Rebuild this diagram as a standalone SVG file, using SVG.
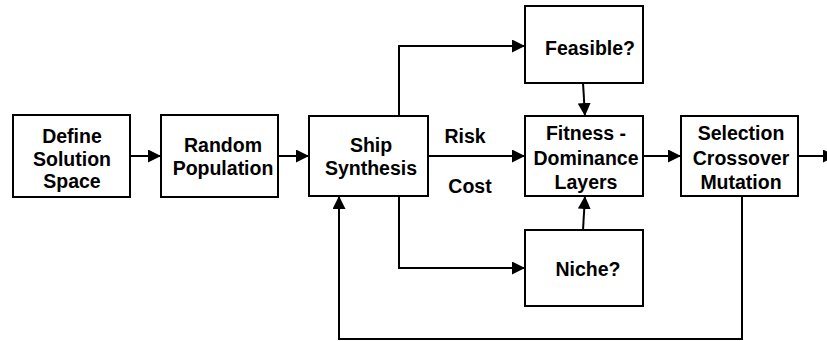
<svg xmlns="http://www.w3.org/2000/svg" width="827" height="341" viewBox="0 0 827 341">
<style>
.box{fill:#fff;stroke:#000;stroke-width:2}
.t{font-family:"Liberation Sans",Arial,sans-serif;font-weight:bold;font-size:19.5px;fill:#000;text-anchor:middle}
.c{fill:none;stroke:#000;stroke-width:2}
</style>
<defs>
<marker id="ah" markerWidth="13" markerHeight="13" refX="13" refY="6.5" orient="auto" markerUnits="userSpaceOnUse">
<path d="M0,0 L13,6.5 L0,13 Z" fill="#000"/>
</marker>
</defs>
<rect width="827" height="341" fill="#fff"/>
<g id="connectors">
<line class="c" x1="130" y1="156" x2="161" y2="156" marker-end="url(#ah)"/>
<line class="c" x1="278" y1="156" x2="309" y2="156" marker-end="url(#ah)"/>
<line class="c" x1="428" y1="156" x2="525" y2="156" marker-end="url(#ah)"/>
<polyline class="c" points="399,116 399,46 525,46" marker-end="url(#ah)"/>
<polyline class="c" points="399,196 399,268 525,268" marker-end="url(#ah)"/>
<line class="c" x1="583" y1="83" x2="585" y2="116" marker-end="url(#ah)"/>
<line class="c" x1="583" y1="230" x2="585" y2="196" marker-end="url(#ah)"/>
<line class="c" x1="643" y1="156" x2="681" y2="156" marker-end="url(#ah)"/>
<line class="c" x1="798" y1="156" x2="836" y2="156" marker-end="url(#ah)"/>
<polyline class="c" points="742,196 742,339 339,339 339,196" marker-end="url(#ah)"/>
<text class="t" x="465" y="143">Risk</text>
<text class="t" x="470" y="193">Cost</text>
</g>
<g id="define">
<rect class="box" x="13" y="115" width="117" height="82"/>
<text class="t" x="72" y="143">Define</text>
<text class="t" x="72" y="166">Solution</text>
<text class="t" x="72" y="188">Space</text>
</g>
<g id="random">
<rect class="box" x="161" y="115" width="117" height="82"/>
<text class="t" x="223" y="152">Random</text>
<text class="t" x="223" y="175">Population</text>
</g>
<g id="ship">
<rect class="box" x="309" y="116" width="119" height="80"/>
<text class="t" x="371" y="152">Ship</text>
<text class="t" x="371" y="175">Synthesis</text>
</g>
<g id="feasible">
<rect class="box" x="525" y="6" width="118" height="77"/>
<text class="t" x="590" y="55">Feasible?</text>
</g>
<g id="fitness">
<rect class="box" x="525" y="116" width="118" height="80"/>
<text class="t" x="586" y="140">Fitness -</text>
<text class="t" x="586" y="165">Dominance</text>
<text class="t" x="586" y="189">Layers</text>
</g>
<g id="niche">
<rect class="box" x="525" y="230" width="118" height="76"/>
<text class="t" x="588" y="276">Niche?</text>
</g>
<g id="selection">
<rect class="box" x="681" y="116" width="117" height="80"/>
<text class="t" x="741" y="140">Selection</text>
<text class="t" x="741" y="165">Crossover</text>
<text class="t" x="741" y="189">Mutation</text>
</g>
</svg>
